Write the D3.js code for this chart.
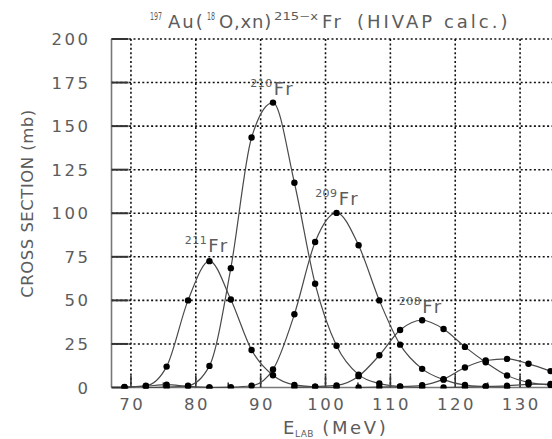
<!DOCTYPE html>
<html><head><meta charset="utf-8">
<script src="https://cdn.jsdelivr.net/npm/d3@7"></script>
<style>body{margin:0;background:#fff}svg{display:block}</style>
</head><body>
<script>
const energies = [69.0, 72.3, 75.5, 78.8, 82.1, 85.4, 88.6, 91.9, 95.2, 98.4, 101.7, 105.1, 108.3, 111.5, 114.9, 118.2, 121.5, 124.7, 128.0, 131.3, 134.7];
// values aligned to energies (null = not computed)
const fr212 = [0.2, 0.8, 1.6, 0.6, 0.1, null, null, null, null, null, null, null, null, null, null, null, null, null, null, null, null];
const fr211 = [0.3, 1.0, 12.0, 50.0, 72.5, 50.5, 21.5, 7.0, 1.5, 0.4, 0.1, null, null, null, null, null, null, null, null, null, null];
const fr210 = [null, 0.0, 0.2, 1.0, 12.4, 68.5, 143.5, 163.5, 117.5, 59.5, 24.0, 7.4, 2.3, 0.6, 0.1, null, null, null, null, null, null];
const fr209 = [null, null, null, null, 0.0, 0.2, 1.0, 10.3, 42.0, 83.5, 100.2, 81.6, 50.0, 24.6, 10.7, 4.5, 1.4, 0.6, 0.2, null, null];
const fr208 = [null, null, null, null, null, null, null, null, 0.2, 0.5, 1.2, 6.5, 18.5, 33.0, 38.6, 33.6, 23.3, 14.5, 6.9, 2.9, 1.5];
const fr207 = [null, null, null, null, null, null, null, null, null, null, null, 0.0, 0.3, 0.5, 1.3, 4.8, 11.5, 15.5, 16.4, 13.6, 9.4];
const fr206 = [null, null, null, null, null, null, null, null, null, null, null, null, null, null, null, 0.0, 0.2, 0.6, 1.0, 1.8, 2.0];
const seriesList = [fr212, fr211, fr210, fr209, fr208, fr207, fr206];
const xTicks = [70, 80, 90, 100, 110, 120, 130];
const xMinorTicks = [75, 85, 95, 105, 115, 125, 135];
const yTicks = [0, 25, 50, 75, 100, 125, 150, 175, 200];
const isotopeLabels = ["211", "210", "209", "208"];
const labelE = [78.3, 88.4, 98.4, 111.3];   // label anchor (energy)
const labelV = [77.8, 167.9, 104.7, 42.8];  // label anchor (cross section)

const W = 552, H = 439;
const x = d3.scaleLinear().domain([67, 135]).range([111.5, 552.5]);
const y = d3.scaleLinear().domain([0, 200]).range([387.5, 39]);
const font = "'DejaVu Sans', sans-serif";
const grey = "#5c5c5c";

const svg = d3.select("body").append("svg").attr("width", W).attr("height", H);

// grid
const grid = svg.append("g").attr("stroke", "#111").attr("stroke-width", 1.6).attr("stroke-dasharray", "2,2.4");
grid.selectAll("line.v").data(xTicks).join("line").attr("class", "v")
  .attr("x1", d => x(d)).attr("x2", d => x(d)).attr("y1", y(200)).attr("y2", y(0));
grid.selectAll("line.h").data(yTicks.filter(d => d > 0)).join("line").attr("class", "h")
  .attr("x1", x(67)).attr("x2", W).attr("y1", d => y(d)).attr("y2", d => y(d));

// frame
svg.append("line").attr("x1", x(67)).attr("x2", x(67)).attr("y1", y(200)).attr("y2", y(0)).attr("stroke", "#777").attr("stroke-width", 1.6);
svg.append("line").attr("x1", x(67)).attr("x2", W).attr("y1", y(0)).attr("y2", y(0)).attr("stroke", "#777").attr("stroke-width", 1.6);

// ticks
svg.append("g").selectAll("line").data(yTicks).join("line")
  .attr("x1", x(67)).attr("x2", x(67) + 17).attr("y1", d => y(d)).attr("y2", d => y(d))
  .attr("stroke", "#333").attr("stroke-width", 2);
svg.append("g").selectAll("line").data(xTicks).join("line")
  .attr("x1", d => x(d)).attr("x2", d => x(d)).attr("y1", y(0)).attr("y2", y(0) - 12)
  .attr("stroke", "#333").attr("stroke-width", 1.6);
svg.append("g").selectAll("line").data(xMinorTicks).join("line")
  .attr("x1", d => x(d)).attr("x2", d => x(d)).attr("y1", y(0)).attr("y2", y(0) - 5)
  .attr("stroke", "#333").attr("stroke-width", 1.6);

// tick labels
const tickLS = 2.5;
svg.append("g").selectAll("text").data(yTicks).join("text")
  .attr("x", 88 + tickLS).attr("y", d => y(d) + 6).attr("text-anchor", "end")
  .attr("letter-spacing", tickLS)
  .attr("font-family", font).attr("font-size", 16.5).attr("fill", grey).text(d => d);
svg.append("g").selectAll("text").data(xTicks).join("text")
  .attr("x", d => x(d) + tickLS / 2).attr("y", 410).attr("text-anchor", "middle")
  .attr("letter-spacing", tickLS)
  .attr("font-family", font).attr("font-size", 16.5).attr("fill", grey).text(d => d);

// curves
svg.append("clipPath").attr("id", "plot").append("rect")
  .attr("x", x(67)).attr("y", y(200)).attr("width", W - x(67)).attr("height", y(0) - y(200) + 1);
const line = d3.line().x(d => x(d[0])).y(d => y(d[1])).curve(d3.curveMonotoneX);
const curves = svg.append("g").attr("clip-path", "url(#plot)");
const ptsOf = s => energies.map((e, i) => [e, s[i]]).filter(d => d[1] != null);
seriesList.forEach(s => {
  curves.append("path").attr("d", line(ptsOf(s))).attr("fill", "none").attr("stroke", "#4a4a4a").attr("stroke-width", 1.2);
});
seriesList.forEach(s => {
  curves.append("g").selectAll("circle").data(ptsOf(s)).join("circle")
    .attr("cx", d => x(d[0])).attr("cy", d => y(d[1])).attr("r", 3.2).attr("fill", "#000");
});

// isotope labels
isotopeLabels.forEach((m, i) => {
  const t = svg.append("text").attr("font-family", font).attr("fill", grey)
    .attr("x", x(labelE[i])).attr("y", y(labelV[i]));
  t.append("tspan").attr("font-size", 11).attr("dy", -8).attr("letter-spacing", 0.5).text(m);
  t.append("tspan").attr("font-size", 18).attr("dy", 8).attr("dx", 1).attr("letter-spacing", 2.5).text("Fr");
});

// title (segments placed at the reference's horizontal positions)
const title = svg.append("text").attr("y", 28)
  .attr("font-family", font).attr("font-size", 18).attr("fill", grey);
const sup = (t, s, px, len) => t.append("tspan").attr("x", px).attr("font-size", 10.5).attr("dy", -8)
  .attr("textLength", len).attr("lengthAdjust", "spacingAndGlyphs").text(s);
const nrm = (t, s, px, ls) => t.append("tspan").attr("x", px).attr("dy", 8).attr("letter-spacing", ls).text(s);
sup(title, "197", 150, 12); nrm(title, "Au(", 168, 2);
sup(title, "18", 207, 8); nrm(title, "O,xn)", 219, 0.8);
sup(title, "215\u2212x", 274, 44); nrm(title, "Fr", 322, 2.5);
title.append("tspan").attr("x", 357).attr("letter-spacing", 3).text("(HIVAP calc.)");

// axis titles
const xl = svg.append("text").attr("x", 283).attr("y", 434)
  .attr("font-family", font).attr("font-size", 18).attr("fill", grey).attr("letter-spacing", 2.6);
xl.append("tspan").text("E");
xl.append("tspan").attr("font-size", 9).attr("dy", 3).attr("dx", -2).attr("letter-spacing", 0.5).text("LAB");
xl.append("tspan").attr("dy", -3).text(" (MeV)");

svg.append("text").attr("transform", "translate(33,203.5) rotate(-90)").attr("text-anchor", "middle")
  .attr("font-family", font).attr("font-size", 16.5).attr("letter-spacing", 0.5).attr("fill", grey).text("CROSS SECTION (mb)");
</script>
</body></html>
